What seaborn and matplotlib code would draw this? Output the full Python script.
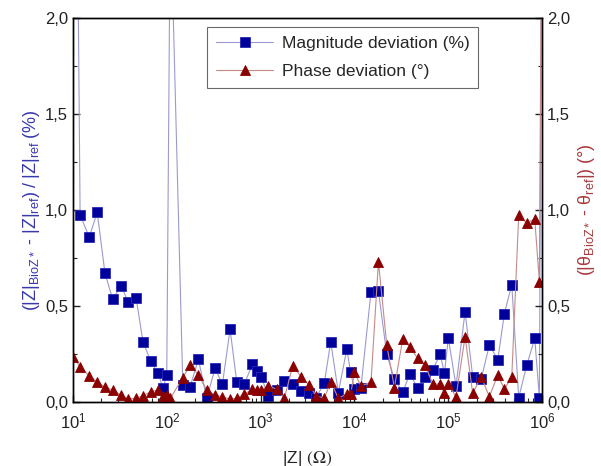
import matplotlib
matplotlib.use("Agg")
import matplotlib.pyplot as plt
import matplotlib.ticker as mticker
import seaborn as sns

# |Z| sample points (Ohm) shared by both series
z_ohm = [10, 11.9, 14.9, 18.1, 21.9, 26.5, 32.5, 38.9, 47.0, 55.6, 67.3, 81.1, 91.0, 99.8, 109,
         148, 177, 217, 266, 327, 391, 472, 556, 670, 817, 908, 1010, 1210, 1490, 1790,
         2200, 2700, 3280, 3900, 4780, 5580, 6730, 8280, 9120, 9980, 11700, 15000, 18000,
         22100, 26600, 32700, 38800, 47200, 56600, 68400, 81800, 91000, 100000, 121000,
         151000, 182000, 224000, 274000, 337000, 396000, 475000, 563000, 687000, 835000,
         935000, 1000000]

# magnitude deviation (%)
mag_dev = [5.2, 0.974, 0.858, 0.988, 0.670, 0.534, 0.604, 0.518, 0.543, 0.313, 0.212, 0.148,
           0.070, 0.139, 2.6, 0.087, 0.078, 0.221, 0.018, 0.174, 0.090, 0.378, 0.104, 0.092,
           0.195, 0.160, 0.130, 0.031, 0.061, 0.110, 0.091, 0.057, 0.047, 0.020, 0.099, 0.313,
           0.047, 0.273, 0.153, 0.065, 0.070, 0.572, 0.577, 0.247, 0.120, 0.049, 0.144, 0.073,
           0.129, 0.165, 0.249, 0.148, 0.331, 0.082, 0.470, 0.130, 0.117, 0.296, 0.219, 0.459,
           0.610, 0.021, 0.191, 0.331, 0.021, 3.0]

# phase deviation (deg)
phase_dev = [0.235, 0.183, 0.134, 0.104, 0.075, 0.061, 0.035, 0.014, 0.018, 0.030, 0.052, 0.061,
             0.030, 0.035, 0.018, 0.125, 0.191, 0.139, 0.061, 0.035, 0.026, 0.013, 0.018, 0.040,
             0.065, 0.061, 0.061, 0.082, 0.065, 0.018, 0.188, 0.130, 0.087, 0.031, 0.018, 0.104,
             0.018, 0.040, 0.040, 0.153, 0.082, 0.101, 0.730, 0.296, 0.073, 0.326, 0.287, 0.226,
             0.191, 0.092, 0.092, 0.044, 0.091, 0.026, 0.339, 0.044, 0.130, 0.026, 0.139, 0.066,
             0.127, 0.974, 0.931, 0.952, 0.626, 3.0]

sns.set_style("white")
plt.rcParams["font.family"] = ["Liberation Sans", "DejaVu Sans"]
plt.rcParams["mathtext.fontset"] = "stix"

fig = plt.figure(figsize=(6.01, 4.66), dpi=100)
ax = fig.add_axes([0.1215, 0.138, 0.7805, 0.823])
ax2 = ax.twinx()

sns.lineplot(x=z_ohm, y=mag_dev, ax=ax, color="#9a9ad0", linewidth=0.8, marker="s",
             markersize=6.5, markerfacecolor="#00009a", markeredgecolor="#2a2ab8",
             markeredgewidth=0.6, label="Magnitude deviation (%)", legend=False)
sns.lineplot(x=z_ohm, y=phase_dev, ax=ax2, color="#c48a8a", linewidth=0.8, marker="^",
             markersize=7.5, markerfacecolor="#8b0000", markeredgecolor="#8b0000",
             markeredgewidth=0.6, label="Phase deviation (°)", legend=False)

for a in (ax, ax2):
    a.set_xscale("log")
    a.set_xlim(10, 1e6)
    a.set_ylim(0, 2.0)
    a.yaxis.set_major_locator(mticker.MultipleLocator(0.5))
    a.yaxis.set_minor_locator(mticker.MultipleLocator(0.25))
    a.yaxis.set_major_formatter(mticker.FuncFormatter(lambda v, p: f"{v:.1f}".replace(".", ",")))
    a.tick_params(axis="both", which="major", direction="in", length=5, width=1,
                  labelsize=12, colors="#222222")
    a.tick_params(axis="both", which="minor", direction="in", length=3, width=0.8)
    for s in a.spines.values():
        s.set_color("black")
        s.set_linewidth(1.0)

ax.tick_params(axis="x", which="both", bottom=True, top=False, pad=7)
ax.tick_params(axis="y", which="both", left=True, right=False)
ax2.tick_params(axis="y", which="both", right=True, left=False)
ax.xaxis.set_major_locator(mticker.LogLocator(base=10))
ax.xaxis.set_minor_locator(mticker.LogLocator(base=10, subs=range(2, 10)))
ax.xaxis.set_minor_formatter(mticker.NullFormatter())

ax.set_xlabel("|Z| $(\\Omega)$", fontsize=12.5, color="#222222", labelpad=13)
ax.set_ylabel(r"$\mathregular{(|Z|_{BioZ*}}$ - $\mathregular{|Z|_{ref})\ /\ |Z|_{ref}\ (\%)}$",
              fontsize=13, color="#3838b0", labelpad=2)
ax2.set_ylabel(r"$\mathregular{(|\theta_{BioZ*}}$ - $\mathregular{\theta_{ref}|)\ (°)}$",
               fontsize=13, color="#a83a3a", labelpad=4)

h1, l1 = ax.get_legend_handles_labels()
h2, l2 = ax2.get_legend_handles_labels()
leg = ax2.legend(h1 + h2, l1 + l2, loc="upper left", bbox_to_anchor=(0.286, 0.977),
                 borderaxespad=0, fontsize=12.5, frameon=True, fancybox=False,
                 edgecolor="#444444", handlelength=3.3, handletextpad=0.5, borderpad=0.5,
                 labelspacing=0.75)
leg.get_frame().set_linewidth(0.8)

fig.savefig("out.png", dpi=100)
